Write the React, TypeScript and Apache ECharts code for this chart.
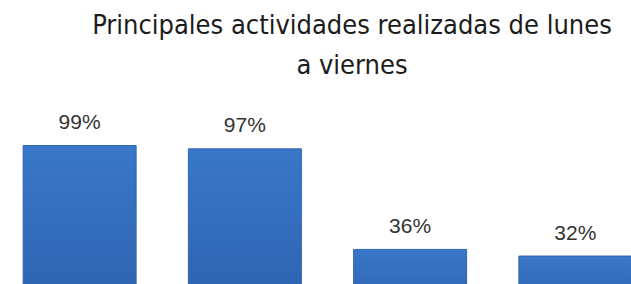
import React, { useEffect, useRef } from "react";
import * as echarts from "echarts";

const categories = ["Actividad 1", "Actividad 2", "Actividad 3", "Actividad 4"];
const values = [99, 97, 36, 32];
const titleText = "Principales actividades realizadas de lunes\na viernes";

export default function App() {
  const ref = useRef<HTMLDivElement>(null);
  useEffect(() => {
    const chart = echarts.init(ref.current!, null, { renderer: "svg" });
    chart.setOption({
      animation: false,
      backgroundColor: "#ffffff",
      title: {
        text: titleText,
        left: 355,
        top: 4,
        padding: 0,
        textAlign: "center",
        textStyle: {
          fontFamily: "'DejaVu Sans Condensed', sans-serif",
          fontSize: 27,
          fontWeight: "normal",
          color: "#1c1c1c",
          lineHeight: 40,
        },
      },
      grid: { left: 0, width: 661, top: 143.4, height: 164.9, containLabel: false },
      xAxis: {
        type: "category",
        data: categories,
        axisLine: { show: false },
        axisTick: { show: false },
        axisLabel: { show: false },
      },
      yAxis: {
        type: "value",
        min: 0,
        max: 100,
        show: false,
        splitLine: { show: false },
      },
      series: [
        {
          type: "bar",
          data: values,
          barWidth: 114,
          itemStyle: {
            color: new echarts.graphic.LinearGradient(0, 0, 0, 1, [
              { offset: 0, color: "#3a77c8" },
              { offset: 1, color: "#2c62b0" },
            ]),
            borderColor: "#2f66b3",
            borderWidth: 1,
          },
          label: {
            show: true,
            position: "top",
            distance: 13,
            formatter: "{c}%",
            fontFamily: "'Liberation Sans', sans-serif",
            fontSize: 21,
            color: "#333333",
          },
        },
      ],
    });
    return () => chart.dispose();
  }, []);
  return (
    <div
      ref={ref}
      style={{ position: "fixed", left: -3, top: 0, width: 670, height: 330 }}
    />
  );
}
